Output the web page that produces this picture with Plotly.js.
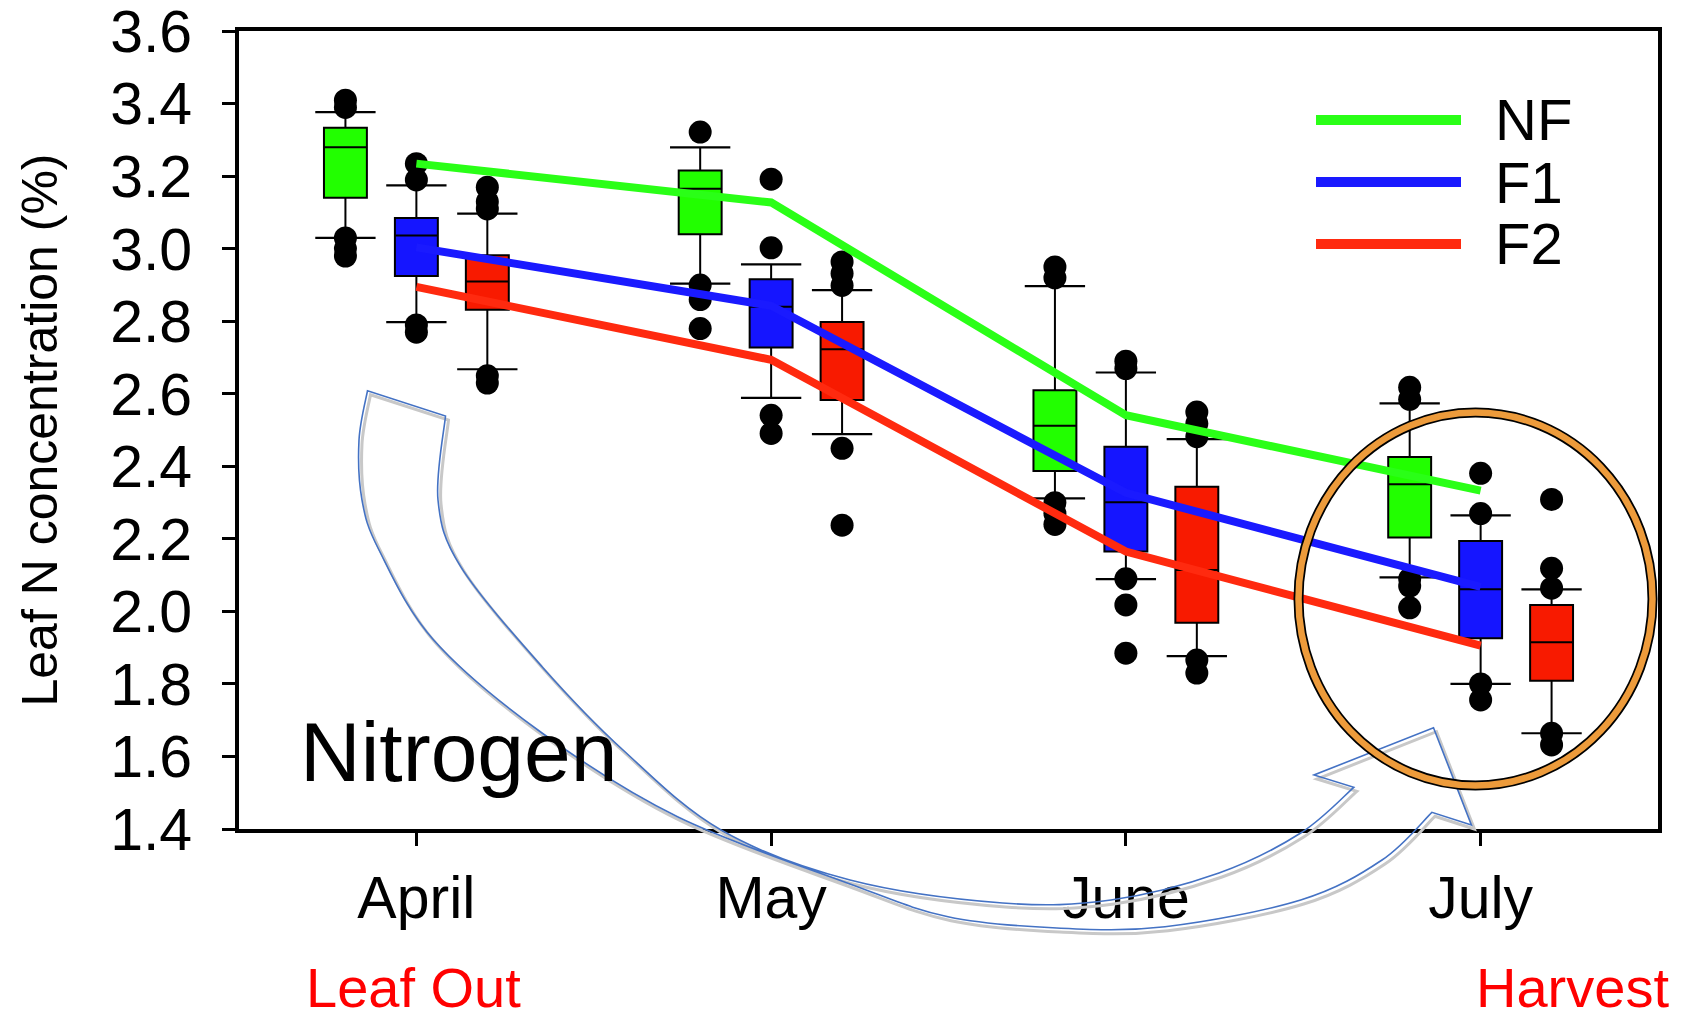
<!DOCTYPE html>
<html><head><meta charset="utf-8">
<script src="https://cdn.plot.ly/plotly-3.0.1.min.js"></script>
<style>html,body{margin:0;padding:0;background:#fff;} #chart{width:1691px;height:1024px;}</style>
</head><body><div id="chart"></div>
<script>
// ---------------- data ----------------
const months = ['April', 'May', 'June', 'July'];
const seriesNames = ['NF', 'F1', 'F2'];
const yTicks = [1.4, 1.6, 1.8, 2.0, 2.2, 2.4, 2.6, 2.8, 3.0, 3.2, 3.4, 3.6];
const yTickText = ['1.4', '1.6', '1.8', '2.0', '2.2', '2.4', '2.6', '2.8', '3.0', '3.2', '3.4', '3.6'];

// mean lines
const nfMean = [3.235, 3.128, 2.541, 2.333];
const f1Mean = [3.004, 2.843, 2.327, 2.068];
const f2Mean = [2.895, 2.694, 2.165, 1.906];

// NF boxes
const nfQ1   = [3.141, 3.040, 2.387, 2.204];
const nfMed  = [3.280, 3.166, 2.512, 2.351];
const nfQ3   = [3.334, 3.216, 2.610, 2.426];
const nfLow  = [3.030, 2.904, 2.312, 2.094];
const nfHigh = [3.377, 3.280, 2.897, 2.574];
const nfOut  = [[3.41, 3.39, 3.03, 3.00, 2.98], [3.322, 2.90, 2.86, 2.78], [2.95, 2.92, 2.30, 2.27, 2.24], [2.618, 2.585, 2.09, 2.07, 2.01]];

// F1 boxes
const f1Q1   = [2.925, 2.728, 2.165, 1.926];
const f1Med  = [3.037, 2.840, 2.301, 2.061];
const f1Q3   = [3.085, 2.916, 2.454, 2.194];
const f1Low  = [2.798, 2.589, 2.089, 1.800];
const f1High = [3.175, 2.957, 2.659, 2.265];
const f1Out  = [[3.235, 3.19, 2.79, 2.77], [3.192, 3.003, 2.541, 2.491], [2.69, 2.67, 2.09, 2.018, 1.885], [2.381, 2.270, 1.80, 1.756]];

// F2 boxes
const f2Q1   = [2.832, 2.583, 1.969, 1.809];
const f2Med  = [2.910, 2.723, 2.114, 1.915];
const f2Q3   = [2.982, 2.798, 2.344, 2.018];
const f2Low  = [2.668, 2.489, 1.877, 1.664];
const f2High = [3.097, 2.886, 2.475, 2.061];
const f2Out  = [[3.17, 3.13, 3.11, 2.65, 2.63], [2.964, 2.932, 2.899, 2.450, 2.238], [2.55, 2.518, 2.482, 1.866, 1.830], [2.309, 2.119, 2.064, 1.664, 1.632]];

// ---------------- layout helpers ----------------
const FONT = 'Liberation Sans, Arial, Helvetica, sans-serif';
const W = 1691, H = 1024, M = {l: 239, r: 33, t: 31, b: 195};
const PW = W - M.l - M.r, PH = H - M.t - M.b;
const px = v => (v - M.l) / PW;
const py = v => (H - M.b - v) / PH;

const series = [
  {name: seriesNames[0], q1: nfQ1, med: nfMed, q3: nfQ3, lo: nfLow, hi: nfHigh, out: nfOut, mean: nfMean, fill: '#22ff00', line: '#2aff17', off: -0.2},
  {name: seriesNames[1], q1: f1Q1, med: f1Med, q3: f1Q3, lo: f1Low, hi: f1High, out: f1Out, mean: f1Mean, fill: '#1515ff', line: '#1a1aff', off: 0},
  {name: seriesNames[2], q1: f2Q1, med: f2Med, q3: f2Q3, lo: f2Low, hi: f2High, out: f2Out, mean: f2Mean, fill: '#f81a00', line: '#ff2a0f', off: 0.2}
];
const mx = months.map((m, i) => i);
const BOXW = 0.121, CAPW = 0.085;

const boxes = [], caps = [], dots = [], lines = [];
series.forEach(s => {
  const pos = mx.map(i => i + s.off);
  boxes.push({
    type: 'box', name: s.name, x: pos, q1: s.q1, median: s.med, q3: s.q3,
    lowerfence: s.lo, upperfence: s.hi, width: BOXW, whiskerwidth: 0,
    boxpoints: false, fillcolor: s.fill, line: {color: '#000', width: 2},
    hoverinfo: 'skip', showlegend: false
  });
  const cx = [], cy = [];
  pos.forEach((p, i) => {
    cx.push(p - CAPW, p + CAPW, null, p - CAPW, p + CAPW, null);
    cy.push(s.hi[i], s.hi[i], null, s.lo[i], s.lo[i], null);
  });
  caps.push({type: 'scatter', mode: 'lines', x: cx, y: cy, line: {color: '#000', width: 2.2},
    hoverinfo: 'skip', showlegend: false});
  const ox = [], oy = [];
  s.out.forEach((arr, i) => arr.forEach(v => { ox.push(pos[i]); oy.push(v); }));
  dots.push({type: 'scatter', mode: 'markers', x: ox, y: oy,
    marker: {size: 23, color: '#000'}, hoverinfo: 'skip', showlegend: false});
  lines.push({type: 'scatter', mode: 'lines', name: s.name, x: mx, y: s.mean,
    line: {color: s.line, width: 8}, showlegend: false});
});

// ---------- decorations (pixel positions converted to paper) ----------
function smooth(pts) {
  const P = pts.map(p => [px(p[0]), py(p[1])]);
  let d = '';
  for (let i = 0; i < P.length - 1; i++) {
    const p0 = P[Math.max(i - 1, 0)], p1 = P[i], p2 = P[i + 1], p3 = P[Math.min(i + 2, P.length - 1)];
    const c1 = [p1[0] + (p2[0] - p0[0]) / 6, p1[1] + (p2[1] - p0[1]) / 6];
    const c2 = [p2[0] - (p3[0] - p1[0]) / 6, p2[1] - (p3[1] - p1[1]) / 6];
    d += ` C ${c1[0]},${c1[1]} ${c2[0]},${c2[1]} ${p2[0]},${p2[1]}`;
  }
  return d;
}
const P = p => `${px(p[0])},${py(p[1])}`;
function arrowPath(dx, dy) {
  const sh = arr => arr.map(p => [p[0] + dx, p[1] + dy]);
  const A = sh([[367.5, 390.7], [359, 440], [362, 500], [379, 550], [433.6, 640], [542, 733], [677.5, 816.7], [850, 884], [948, 916.7], [1056.8, 928], [1165, 926.7], [1300.7, 900], [1382, 860], [1431.9, 812.3]]);
  const B = sh([[445.5, 416], [438, 500], [460.7, 566.7], [542, 666.7], [623, 750], [721, 830], [850, 880], [1002.6, 903], [1111, 900], [1219, 873], [1300.7, 833], [1353.8, 787.3]]);
  const head = sh([[1471.4, 825], [1433.5, 727.7], [1314, 775]]);
  let d = 'M ' + P(A[0]) + smooth(A);
  head.forEach(h => d += ' L ' + P(h));
  const Br = B.slice().reverse();
  d += ' L ' + P(Br[0]) + smooth(Br) + ' Z';
  return d;
}

const shapes = [
  {type: 'path', xref: 'paper', yref: 'paper', path: arrowPath(3, 4), line: {color: '#c8c8c8', width: 3}, layer: 'above'},
  {type: 'path', xref: 'paper', yref: 'paper', path: arrowPath(0, 0), line: {color: '#4472c4', width: 1.6}, layer: 'above'},
  {type: 'circle', xref: 'paper', yref: 'paper', x0: px(1298.5), x1: px(1652.5), y0: py(785.5), y1: py(412.5), line: {color: '#000', width: 10}, layer: 'above'},
  {type: 'circle', xref: 'paper', yref: 'paper', x0: px(1298.5), x1: px(1652.5), y0: py(785.5), y1: py(412.5), line: {color: '#ed9b3b', width: 6.5}, layer: 'above'}
];
const legY = [120, 182, 244];
const annotations = [];
series.forEach((s, i) => {
  shapes.push({type: 'line', xref: 'paper', yref: 'paper', x0: px(1316), x1: px(1461), y0: py(legY[i]), y1: py(legY[i]),
    line: {color: s.line, width: 10}});
  annotations.push({xref: 'paper', yref: 'paper', x: px(1493), y: py(legY[i]), xanchor: 'left', yanchor: 'middle',
    text: s.name, showarrow: false, font: {family: FONT, size: 58, color: '#000'}});
});
annotations.push({xref: 'paper', yref: 'paper', x: px(298), y: py(752), xanchor: 'left', yanchor: 'middle',
  text: 'Nitrogen', showarrow: false, font: {family: FONT, size: 84, color: '#000'}});
annotations.push({xref: 'paper', yref: 'paper', x: px(413.5), y: py(987), xanchor: 'center', yanchor: 'middle',
  text: 'Leaf Out', showarrow: false, font: {family: FONT, size: 56, color: '#ff0000'}});
annotations.push({xref: 'paper', yref: 'paper', x: px(1572), y: py(987), xanchor: 'center', yanchor: 'middle',
  text: 'Harvest', showarrow: false, font: {family: FONT, size: 56, color: '#ff0000'}});

const axisCommon = {
  ticks: 'outside', ticklen: 13, tickwidth: 3, tickcolor: '#000',
  showline: true, linewidth: 4, linecolor: '#000', mirror: true,
  showgrid: false, zeroline: false, fixedrange: true, ticklabeloverflow: 'allow',
  tickfont: {family: FONT, size: 59, color: '#000'}
};
const layout = {
  width: W, height: H, margin: M, paper_bgcolor: '#fff', plot_bgcolor: '#fff',
  showlegend: false, font: {family: FONT, color: '#000'},
  xaxis: Object.assign({}, axisCommon, {range: [-0.5, 3.5], tickmode: 'array', tickvals: mx, ticktext: months, ticklabelstandoff: 1}),
  yaxis: Object.assign({}, axisCommon, {range: [1.4, 3.6008], tickmode: 'array', tickvals: yTicks, ticktext: yTickText, ticklabelstandoff: 18,
    title: {text: 'Leaf N concentration (%)', font: {family: FONT, size: 50, color: '#000'}, standoff: 38}}),
  shapes: shapes, annotations: annotations
};

Plotly.newPlot('chart', boxes.concat(caps, dots, lines), layout, {displayModeBar: false, staticPlot: true});
</script></body></html>
